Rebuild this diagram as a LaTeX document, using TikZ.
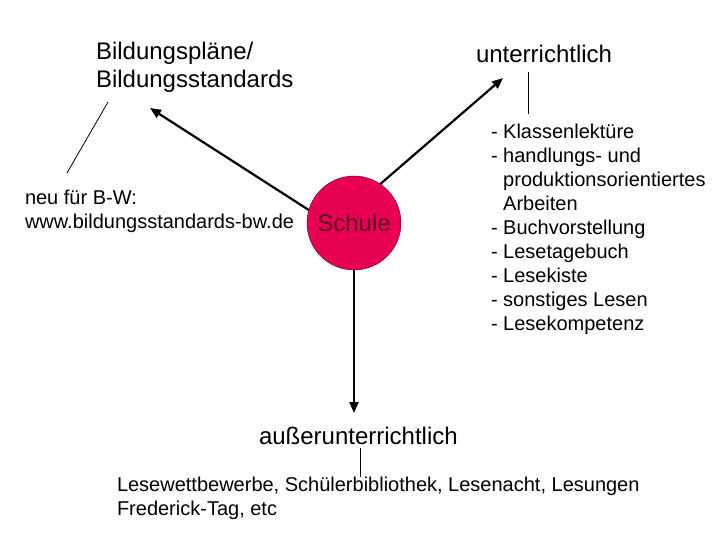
\documentclass[tikz,border=0pt]{standalone}
\usepackage{fontspec}
\setmainfont{Liberation Sans}
\usetikzlibrary{arrows.meta}

\definecolor{schulrot}{RGB}{232,0,84}
\definecolor{schulrand}{RGB}{90,0,30}

\begin{document}
\begin{tikzpicture}[
  x=1pt, y=-1pt,
  >={Triangle[length=11pt, width=9pt]},
  every node/.style={inner sep=0pt, outer sep=0pt, align=left},
  gross/.style={font=\fontsize{24}{28.8}\selectfont, anchor=base west},
  klein/.style={font=\fontsize{20}{24}\selectfont, anchor=base west},
  kreis/.style={circle, draw=schulrand, thin, fill=schulrot, minimum size=94pt, font=\fontsize{24}{28.8}\selectfont, text=schulrand},
  pfeil/.style={->, line width=2.2pt, color=black},
  strich/.style={line width=0.8pt, color=black}
]
\useasboundingbox (0,0) rectangle (720,540);

% Mitte
\node[kreis] (schule) at (354,223) {Schule};

% Texte (base = Grundlinie der letzten Zeile)
\node[gross] (plan) at (96,88) {Bildungspläne/\\Bildungsstandards};
\node[klein] (bw) at (25,229) {neu für B-W:\\www.bildungsstandards-bw.de};
\node[gross] (unt) at (476,63) {unterrichtlich};
\node[klein] (liste) at (491,330) {- Klassenlektüre\\- handlungs- und\\\hphantom{- }produktionsorientiertes\\\hphantom{- }Arbeiten\\- Buchvorstellung\\- Lesetagebuch\\- Lesekiste\\- sonstiges Lesen\\- Lesekompetenz};
\node[gross] (aus) at (259,444) {außerunterrichtlich};
\node[klein] (ausliste) at (117,515) {Lesewettbewerbe, Schülerbibliothek, Lesenacht, Lesungen\\Frederick-Tag, etc};

% Pfeilspitzen
\coordinate (zielplan) at (150,108);
\coordinate (zielunt) at (503,78);
\coordinate (zielaus) at (354,413);

\draw[pfeil] (schule.164)--(zielplan);
\draw[pfeil] (schule.56)--(zielunt);
\draw[pfeil] (schule.south)--(zielaus);

% Verbindungsstriche
\coordinate (plan-a) at (108,102);
\coordinate (bw-a) at (67,173);
\coordinate (unt-a) at (528,72);
\coordinate (liste-a) at (528,114);
\coordinate (aus-a) at (360,448);
\coordinate (ausliste-a) at (360,477);

\draw[strich] (plan-a)--(bw-a);
\draw[strich] (unt-a)--(liste-a);
\draw[strich] (aus-a)--(ausliste-a);
\end{tikzpicture}
\end{document}
